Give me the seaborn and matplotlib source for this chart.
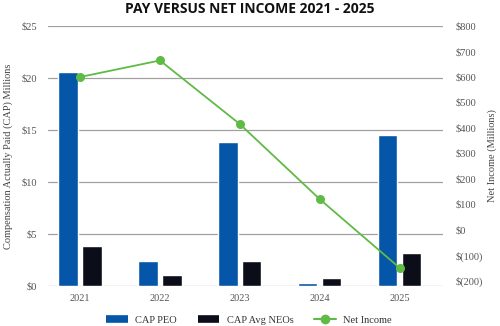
import matplotlib
matplotlib.use("Agg")
import matplotlib.pyplot as plt
from matplotlib.lines import Line2D
import numpy as np
import pandas as pd
import seaborn as sns

years = ["2021", "2022", "2023", "2024", "2025"]
cap_peo = [20.6, 2.4, 13.8, 0.3, 14.5]
cap_neo = [3.8, 1.05, 2.4, 0.75, 3.2]
net_income = [600, 665, 415, 120, -150]
left_ticks = [0, 5, 10, 15, 20, 25]
left_labels = ["$0", "$5", "$10", "$15", "$20", "$25"]
right_ticks = [-200, -100, 0, 100, 200, 300, 400, 500, 600, 700, 800]
right_labels = ["$(200)", "$(100)", "$0", "$100", "$200", "$300", "$400", "$500", "$600", "$700", "$800"]

BLUE = "#0556a8"
BLACK = "#0b0e19"
GREEN = "#5fba46"

df = pd.DataFrame({
    "Year": years * 2,
    "Value": cap_peo + cap_neo,
    "Series": ["CAP PEO"] * len(years) + ["CAP Avg NEOs"] * len(years),
})

sns.set_theme(style="white")
plt.rcParams["font.family"] = ["Liberation Serif", "DejaVu Serif"]

fig = plt.figure(figsize=(5.0, 3.26), dpi=100)
ax = fig.add_axes([0.096, 0.123, 0.79, 0.797])

sns.barplot(data=df, x="Year", y="Value", hue="Series",
            palette={"CAP PEO": BLUE, "CAP Avg NEOs": BLACK},
            width=0.6, gap=0.2, ax=ax, legend=False, saturation=1)

ax.set_xlim(-0.4, 4.54)
ax.set_ylim(0, 25)
ax.set_yticks(left_ticks)
ax.set_yticklabels(left_labels)
ax.yaxis.grid(True, color="#a0a0a0", linewidth=0.9)
ax.set_axisbelow(True)
for s in ax.spines.values():
    s.set_visible(False)
ax.tick_params(axis="both", length=0, labelsize=7.5, colors="#555555")
ax.tick_params(axis="y", pad=8)
ax.tick_params(axis="x", pad=6)
ax.set_xlabel("")
ax.set_ylabel("Compensation Actually Paid (CAP) Millions", fontsize=7.5, color="#444444", labelpad=6)

ax2 = ax.twinx()
sns.lineplot(x=np.arange(len(years)), y=net_income, ax=ax2, color=GREEN,
             marker="o", markersize=6.5, markeredgewidth=0, linewidth=1.3)
ax2.set_ylim(-220, 800)
ax2.set_yticks(right_ticks)
ax2.set_yticklabels(right_labels)
for s in ax2.spines.values():
    s.set_visible(False)
ax2.tick_params(axis="y", length=0, labelsize=7.5, colors="#555555", pad=9)
ax2.set_ylabel("Net Income (Millions)", fontsize=7.5, color="#444444", labelpad=3)

fig.suptitle("PAY VERSUS NET INCOME 2021 - 2025", x=0.5, y=0.995,
             fontsize=10, fontweight="bold", family=["Open Sans", "DejaVu Sans"], color="#111111")

handles = [
    Line2D([0], [0], color=BLUE, lw=5.5, solid_capstyle="butt"),
    Line2D([0], [0], color=BLACK, lw=5.5, solid_capstyle="butt"),
    Line2D([0], [0], color=GREEN, lw=1.5, marker="o", markersize=7, markeredgewidth=0),
]
fig.legend(handles, ["CAP PEO", "CAP Avg NEOs", "Net Income"], loc="lower center",
           bbox_to_anchor=(0.498, -0.025), ncol=3, frameon=False, fontsize=7.5,
           handlelength=2.1, columnspacing=2.0, handletextpad=0.7,
           labelcolor="#333333")

fig.savefig("out.png", dpi=100)
